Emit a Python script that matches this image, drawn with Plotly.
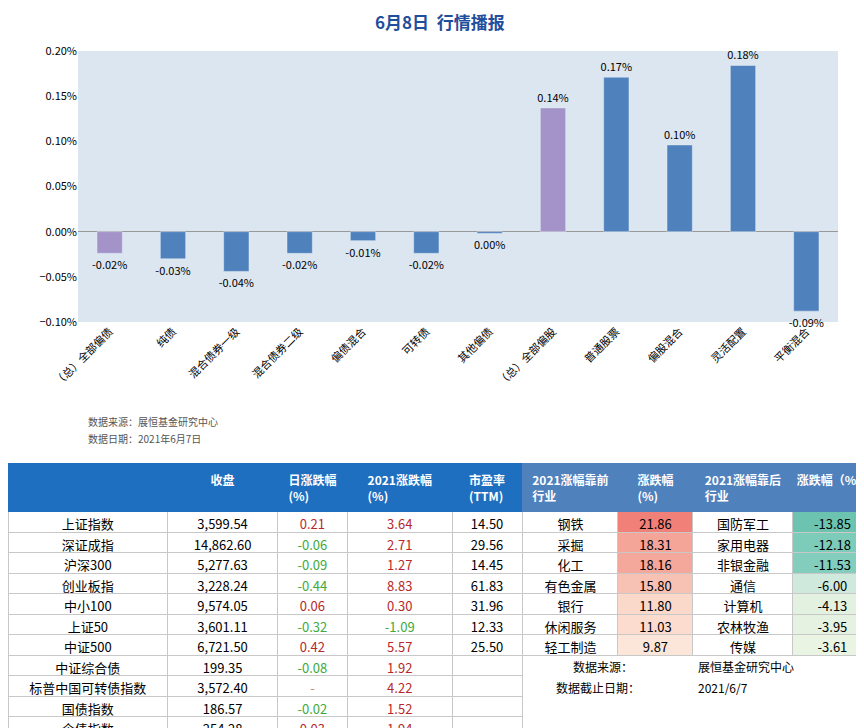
import plotly.graph_objects as go

categories = ["（总）全部偏债", "纯债", "混合债券一级", "混合债券二级", "偏债混合", "可转债", "其他偏债",
              "（总）全部偏股", "普通股票", "偏股混合", "灵活配置", "平衡混合"]
values = [-0.024, -0.030, -0.044, -0.024, -0.010, -0.024, -0.002, 0.137, 0.171, 0.096, 0.184, -0.088]
bar_colors = ["#a393c8", "#4f81bd", "#4f81bd", "#4f81bd", "#4f81bd", "#4f81bd", "#4f81bd",
              "#a393c8", "#4f81bd", "#4f81bd", "#4f81bd", "#4f81bd"]

idx_names = ["上证指数", "深证成指", "沪深300", "创业板指", "中小100", "上证50", "中证500",
             "中证综合债", "标普中国可转债指数", "国债指数", "企债指数"]
idx_close = ["3,599.54", "14,862.60", "5,277.63", "3,228.24", "9,574.05", "3,601.11", "6,721.50",
             "199.35", "3,572.40", "186.57", "254.28"]
idx_day = ["0.21", "-0.06", "-0.09", "-0.44", "0.06", "-0.32", "0.42", "-0.08", "-", "-0.02", "0.03"]
idx_ytd = ["3.64", "2.71", "1.27", "8.83", "0.30", "-1.09", "5.57", "1.92", "4.22", "1.52", "1.94"]
idx_pe = ["14.50", "29.56", "14.45", "61.83", "31.96", "12.33", "25.50", "", "", "", ""]

top_ind = ["钢铁", "采掘", "化工", "有色金属", "银行", "休闲服务", "轻工制造"]
top_chg = ["21.86", "18.31", "18.16", "15.80", "11.80", "11.03", "9.87"]
bot_ind = ["国防军工", "家用电器", "非银金融", "通信", "计算机", "农林牧渔", "传媒"]
bot_chg = ["-13.85", "-12.18", "-11.53", "-6.00", "-4.13", "-3.95", "-3.61"]
top_fill = ["#f08078", "#f4a597", "#f4a89b", "#f7c1b3", "#fad8ca", "#fbdccf", "#fce6da"]
bot_fill = ["#6cc4b0", "#7dcbb9", "#82cdbc", "#cfe9dc", "#e3f1e1", "#e5f2e2", "#e9f4e3"]

RED, GREEN = "#b8282a", "#3daa3d"
def col(v):
    if v == "-":
        return "#e08080"
    return GREEN if v.startswith("-") else RED

CJK = "Noto Sans CJK SC"
fig = go.Figure()

labels = [f"{v:.2f}%".replace("-0.00", "0.00") for v in values]
fig.add_trace(go.Bar(
    x=categories, y=values, marker_color=bar_colors, width=0.4,
    text=labels, textposition="outside", constraintext="none",
    textfont=dict(size=11, color="#000", family=CJK), cliponaxis=False,
    xaxis="x", yaxis="y"))

LH = "#1f6fc0"
fig.add_trace(go.Table(
    domain=dict(x=[0, 0.596], y=[0, 0.375]),
    columnwidth=[160, 110, 70, 105, 70],
    header=dict(values=["", "<b>收盘</b>", "<b>日涨跌幅<br>(%)</b>", "<b>2021涨跌幅<br>(%)</b>", "<b>市盈率<br>(TTM)</b>"],
                fill_color=LH, line_color=LH, height=45,
                font=dict(color="white", size=12, family=CJK), align="center"),
    cells=dict(values=[idx_names, idx_close, idx_day, idx_ytd, idx_pe],
               fill_color="white", line_color="#c8c8c8", height=20.5, align="center",
               font=dict(size=13, family=CJK,
                         color=["#000", "#000", [col(v) for v in idx_day], [col(v) for v in idx_ytd], "#000"]))))

RH = "#4f81bd"
fig.add_trace(go.Table(
    domain=dict(x=[0.596, 1], y=[0.105, 0.375]),
    columnwidth=[95, 75, 100, 79],
    header=dict(values=["<b>2021涨幅靠前<br>行业</b>", "<b>涨跌幅<br>(%)</b>", "<b>2021涨幅靠后<br>行业</b>", "<b>涨跌幅（%）</b>"],
                fill_color=RH, line_color=RH, height=45,
                font=dict(color="white", size=12, family=CJK), align="center"),
    cells=dict(values=[top_ind, top_chg, bot_ind, bot_chg],
               fill_color=[["white"] * 7, top_fill, ["white"] * 7, bot_fill],
               line_color="#c8c8c8", height=20.5, align="center",
               font=dict(size=13, family=CJK, color="#000"))))

ann = [
    dict(text="<b>6月8日  行情播报</b>", x=0.5, y=1 - 13 / 728, font=dict(size=17, color="#1f4e9c", family=CJK)),
    dict(text="数据来源：展恒基金研究中心", x=78 / 864, y=1 - 413 / 728, xanchor="left", font=dict(size=10, color="#555", family=CJK)),
    dict(text="数据日期：2021年6月7日", x=78 / 864, y=1 - 430 / 728, xanchor="left", font=dict(size=10, color="#555", family=CJK)),
    dict(text="数据来源：", x=595 / 864, y=1 - 658 / 728, xanchor="center", font=dict(size=12, color="#000", family=CJK)),
    dict(text="展恒基金研究中心", x=738 / 864, y=1 - 658 / 728, xanchor="center", font=dict(size=12, color="#000", family=CJK)),
    dict(text="数据截止日期：", x=590 / 864, y=1 - 679 / 728, xanchor="center", font=dict(size=12, color="#000", family=CJK)),
    dict(text="2021/6/7", x=715 / 864, y=1 - 679 / 728, xanchor="center", font=dict(size=12, color="#000", family=CJK)),
]
for a in ann:
    a.update(xref="paper", yref="paper", showarrow=False, yanchor="middle")

fig.update_layout(
    width=864, height=728, margin=dict(l=0, r=0, t=0, b=0, autoexpand=False),
    paper_bgcolor="white", plot_bgcolor="#dce6f1", showlegend=False,
    font=dict(family=CJK),
    xaxis=dict(domain=[70 / 864, 830 / 864], tickangle=-45, tickfont=dict(size=11, color="#000"),
               showgrid=False, anchor="y", automargin=False),
    yaxis=dict(domain=[1 - 314 / 728, 1 - 43 / 728], range=[-0.10, 0.20], dtick=0.05,
               tickformat=".2f", ticksuffix="%", showgrid=False, zeroline=True, automargin=False,
               zerolinecolor="#999", zerolinewidth=1, tickfont=dict(size=11, color="#000")),
    annotations=ann)

fig.write_html("out.html")
